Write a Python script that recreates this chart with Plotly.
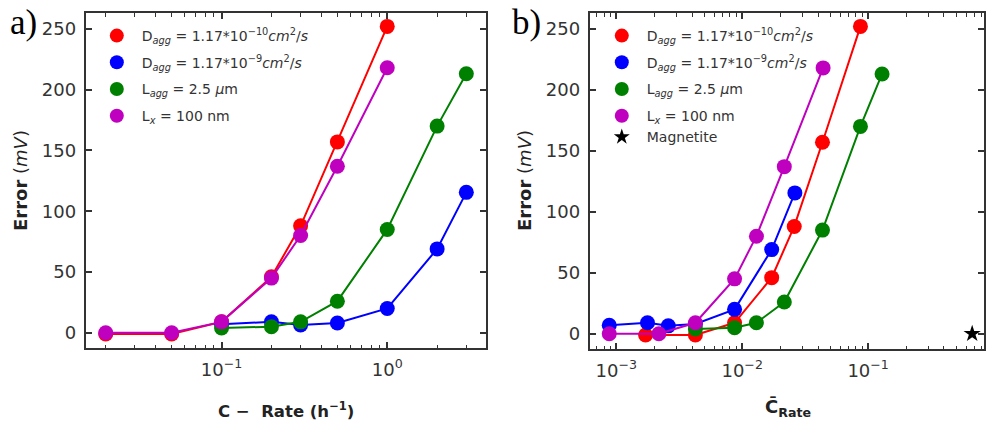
import plotly.graph_objects as go

# ---------------- data ----------------
c_rate_red = [0.02, 0.05, 0.1, 0.2, 0.3, 0.5, 1.0]
err_red = [-1, -1, 9, 46, 88, 157, 252]
cbar_red = [0.00171, 0.00425, 0.0087, 0.01715, 0.0259, 0.0434, 0.0869]

c_rate_blue = [0.1, 0.2, 0.3, 0.5, 1.0, 2.0, 3.0]
err_blue = [7, 9, 6.5, 8, 20, 69, 115.5]
cbar_blue = [0.00088, 0.00177, 0.00259, 0.00425, 0.0087, 0.01715, 0.0262]

c_rate_green = [0.1, 0.2, 0.3, 0.5, 1.0, 2.0, 3.0]
err_green = [4, 5, 9, 26, 85, 170, 213]
cbar_green = [0.00425, 0.0087, 0.01297, 0.0216, 0.0434, 0.0869, 0.129]

c_rate_mag = [0.02, 0.05, 0.1, 0.2, 0.3, 0.5, 1.0]
err_mag = [0, 0, 9, 45, 80, 137, 218]
cbar_mag = [0.00088, 0.00218, 0.00425, 0.0087, 0.01297, 0.0216, 0.0439]

cbar_magnetite = [0.67]
err_magnetite = [0]

names = [
    "D<sub><i>agg</i></sub> = 1.17*10<sup>−10</sup><i>cm</i><sup>2</sup>/<i>s</i>",
    "D<sub><i>agg</i></sub> = 1.17*10<sup>−9</sup><i>cm</i><sup>2</sup>/<i>s</i>",
    "L<sub><i>agg</i></sub> = 2.5 <i>µ</i>m",
    "L<sub><i>x</i></sub> = 100 nm",
]
colors = ["#ff0000", "#0000ff", "#008000", "#bf00bf"]

y_ticks = [0, 50, 100, 150, 200, 250]
left_ticks = [0.1, 1.0]
left_ticktext = ["10<sup>−1</sup>", "10<sup>0</sup>"]
right_ticks = [0.001, 0.01, 0.1]
right_ticktext = ["10<sup>−3</sup>", "10<sup>−2</sup>", "10<sup>−1</sup>"]

# ---------------- figure ----------------
W, H = 986, 429
FONT = "DejaVu Sans, Liberation Sans, Arial, sans-serif"
AX = "#333333"

fig = go.Figure()

left_series = [(c_rate_red, err_red), (c_rate_blue, err_blue),
               (c_rate_green, err_green), (c_rate_mag, err_mag)]
right_series = [(cbar_red, err_red), (cbar_blue, err_blue),
                (cbar_green, err_green), (cbar_mag, err_mag)]

for (xs, ys), col in zip(left_series, colors):
    fig.add_trace(go.Scatter(x=xs, y=ys, mode="lines+markers", xaxis="x", yaxis="y",
                             line=dict(color=col, width=2),
                             marker=dict(color=col, size=15), showlegend=False))
for (xs, ys), col in zip(right_series, colors):
    fig.add_trace(go.Scatter(x=xs, y=ys, mode="lines+markers", xaxis="x2", yaxis="y2",
                             line=dict(color=col, width=2),
                             marker=dict(color=col, size=15), showlegend=False))
fig.add_trace(go.Scatter(x=cbar_magnetite, y=err_magnetite, mode="markers", xaxis="x2", yaxis="y2",
                         marker=dict(color="black", size=13, symbol="star"), showlegend=False))

# legend entries (marker only)
for i, (nm, col) in enumerate(zip(names, colors)):
    fig.add_trace(go.Scatter(x=[None], y=[None], mode="markers", name=nm, xaxis="x", yaxis="y",
                             marker=dict(color=col, size=14), legend="legend",
                             legendgroup="L%d" % i))
    fig.add_trace(go.Scatter(x=[None], y=[None], mode="markers", name=nm, xaxis="x2", yaxis="y2",
                             marker=dict(color=col, size=14), legend="legend2",
                             legendgroup="R%d" % i))
fig.add_trace(go.Scatter(x=[None], y=[None], mode="markers", name="Magnetite", xaxis="x2", yaxis="y2",
                         marker=dict(color="black", size=12, symbol="star"), legend="legend2",
                         legendgroup="R3"))

def log_minor(e_from, e_to):
    return [m * 10.0 ** e for e in range(e_from, e_to + 1) for m in range(2, 10)]

ydom_l = [1 - 348 / H, 1 - 13 / H]
ydom_r = [1 - 349 / H, 1 - 13 / H]

common_axis = dict(showline=True, linecolor=AX, linewidth=2, mirror="allticks",
                   ticks="inside", ticklen=6, tickwidth=1.5, tickcolor=AX,
                   showgrid=False, zeroline=False,
                   tickfont=dict(family=FONT, size=18, color=AX))

legend_common = dict(xanchor="left", yanchor="top", bgcolor="rgba(0,0,0,0)",
                     traceorder="grouped", tracegroupgap=5.5, itemwidth=40,
                     font=dict(family=FONT, size=14, color=AX), itemsizing="trace")

fig.update_layout(
    width=W, height=H,
    margin=dict(l=0, r=0, t=0, b=0),
    paper_bgcolor="white", plot_bgcolor="white",
    xaxis=dict(type="log", range=[-1.819, 0.596], domain=[86 / W, 487 / W], anchor="y",
               tickmode="array", tickvals=left_ticks, ticktext=left_ticktext,
               minor=dict(tickmode="array", tickvals=log_minor(-2, 0), ticks="inside",
                          ticklen=3.5, tickwidth=1, tickcolor=AX),
               ticklabelstandoff=4, **common_axis),
    yaxis=dict(range=[-12.5, 263], domain=ydom_l, anchor="x",
               tickmode="array", tickvals=y_ticks, ticklabelstandoff=4, **common_axis),
    xaxis2=dict(type="log", range=[-3.21, -0.08], domain=[591 / W, 1.0], anchor="y2",
                tickmode="array", tickvals=right_ticks, ticktext=right_ticktext,
                minor=dict(tickmode="array", tickvals=log_minor(-4, 0), ticks="inside",
                           ticklen=3.5, tickwidth=1, tickcolor=AX),
                ticklabelstandoff=4, **common_axis),
    yaxis2=dict(range=[-12.5, 263], domain=ydom_r, anchor="x2",
                tickmode="array", tickvals=y_ticks, ticklabelstandoff=4, **common_axis),
    legend=dict(x=92 / W, y=1 - 20 / H, **legend_common),
    legend2=dict(x=598 / W, y=1 - 20 / H, **legend_common),
    showlegend=True,
)

annos = [
    dict(text="<b>Error</b> (<i>mV</i>)", x=20 / W, y=1 - 180 / H, textangle=-90,
         font=dict(family=FONT, size=18, color="#222")),
    dict(text="<b>Error</b> (<i>mV</i>)", x=525 / W, y=1 - 180 / H, textangle=-90,
         font=dict(family=FONT, size=18, color="#222")),
    dict(text="<b>C −  Rate (h<sup>−1</sup>)</b>", x=287 / W, y=1 - 410 / H,
         font=dict(family=FONT, size=16.5, color="#222")),
    dict(text="<b>C\u0304<sub>Rate</sub></b>", x=790 / W, y=1 - 408 / H,
         font=dict(family=FONT, size=18, color="#222")),
    dict(text="a)", x=8 / W, y=1 - 22 / H, xanchor="left",
         font=dict(family="Liberation Serif, Times New Roman, serif", size=35, color="black")),
    dict(text="b)", x=511 / W, y=1 - 22 / H, xanchor="left",
         font=dict(family="Liberation Serif, Times New Roman, serif", size=35, color="black")),
]
for a in annos:
    a.update(xref="paper", yref="paper", showarrow=False)
    a.setdefault("xanchor", "center")
    a.setdefault("yanchor", "middle")
    fig.add_annotation(**a)

fig.write_html("out.html")
